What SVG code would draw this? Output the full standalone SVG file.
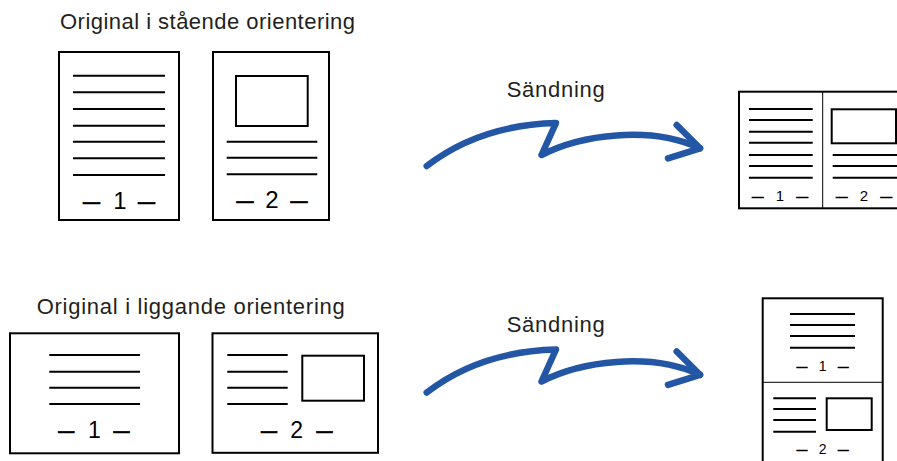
<svg xmlns="http://www.w3.org/2000/svg" width="897" height="461" viewBox="0 0 897 461">
<style>
.pg{fill:#fff;stroke:#000;stroke-width:2}
.ln{stroke:#000;stroke-width:2}
.dv{stroke:#000;stroke-width:1}
.box{fill:none;stroke:#000;stroke-width:2}
.t{font-family:"Liberation Sans",Arial,sans-serif;fill:#231f20;font-size:22px}
.n{font-family:"Liberation Sans",Arial,sans-serif;fill:#000}
.d{stroke:#000;stroke-width:0.6}
.c{text-anchor:middle}
.arr{fill:none;stroke:#2357a6;stroke-width:6.5;stroke-linecap:round;stroke-linejoin:round}
</style>
<rect width="897" height="461" fill="#fff"/>
<g id="title-portrait"><text class="t" x="60" y="29" textLength="295" lengthAdjust="spacing">Original i stående orientering</text></g>
<g id="title-landscape"><text class="t" x="36.7" y="314.3" textLength="308" lengthAdjust="spacing">Original i liggande orientering</text></g>
<g id="portrait-page1">
<rect class="pg" x="59" y="52" width="120" height="168"/>
<path class="ln" d="M73 75.7H165M73 92.3H165M73 109H165M73 125.7H165M73 141.7H165M73 158.3H165M73 175H165"/>
<g class="n" font-size="24">
<text class="d" x="83" y="208.5" textLength="17" lengthAdjust="spacingAndGlyphs">–</text>
<text class="c" x="120" y="208.5">1</text>
<text class="d" x="138" y="208.5" textLength="17" lengthAdjust="spacingAndGlyphs">–</text>
</g>
</g>
<g id="portrait-page2">
<rect class="pg" x="213" y="52" width="116" height="168"/>
<rect class="box" x="236" y="76" width="71.7" height="50"/>
<path class="ln" d="M226.7 141.7H317.3M226.7 157.7H317.3M226.7 174.3H317.3"/>
<g class="n" font-size="24">
<text class="d" x="236.5" y="208.3" textLength="17" lengthAdjust="spacingAndGlyphs">–</text>
<text class="c" x="272" y="208.3">2</text>
<text class="d" x="290.5" y="208.3" textLength="17" lengthAdjust="spacingAndGlyphs">–</text>
</g>
</g>
<g id="landscape-page1">
<rect class="pg" x="10" y="333.3" width="169" height="120"/>
<path class="ln" d="M49.3 355H140M49.3 371.7H140M49.3 387.7H140M49.3 404H140"/>
<g class="n" font-size="23">
<text class="d" x="58.3" y="438.3" textLength="16" lengthAdjust="spacingAndGlyphs">–</text>
<text class="c" x="94.5" y="438.3">1</text>
<text class="d" x="113.5" y="438.3" textLength="16" lengthAdjust="spacingAndGlyphs">–</text>
</g>
</g>
<g id="landscape-page2">
<rect class="pg" x="212.5" y="333.3" width="165.5" height="119.5"/>
<path class="ln" d="M227.3 355H287.7M227.3 371.7H287.7M227.3 387.7H287.7M227.3 404H287.7"/>
<rect class="box" x="302.3" y="355.7" width="61.7" height="45"/>
<g class="n" font-size="23">
<text class="d" x="261" y="438.3" textLength="16" lengthAdjust="spacingAndGlyphs">–</text>
<text class="c" x="296.7" y="438.3">2</text>
<text class="d" x="316.5" y="438.3" textLength="16" lengthAdjust="spacingAndGlyphs">–</text>
</g>
</g>
<g id="label-send-1"><text class="t" x="506.7" y="97" textLength="98" lengthAdjust="spacing">Sändning</text></g>
<g id="label-send-2"><text class="t" x="506.7" y="332.3" textLength="98" lengthAdjust="spacing">Sändning</text></g>
<g id="result-portrait">
<rect class="pg" x="739" y="91.7" width="167.4" height="116.6"/>
<path class="dv" d="M822.7 91.7V208.3"/>
<path class="ln" d="M749 109H812.7M749 120H812.7M749 131.7H812.7M749 142.7H812.7M749 155H812.7M749 166H812.7M749 177.7H812.7"/>
<g class="n" font-size="15">
<text class="d" x="752" y="200.7" textLength="11.5" lengthAdjust="spacingAndGlyphs">–</text>
<text class="c" x="780" y="200.7">1</text>
<text class="d" x="796.5" y="200.7" textLength="11.5" lengthAdjust="spacingAndGlyphs">–</text>
</g>
<rect class="box" x="831.7" y="109.3" width="64.3" height="34"/>
<path class="ln" d="M832.7 155H897M832.7 166H897M832.7 177.7H897"/>
<g class="n" font-size="15">
<text class="d" x="836" y="200.7" textLength="11.5" lengthAdjust="spacingAndGlyphs">–</text>
<text class="c" x="864" y="200.7">2</text>
<text class="d" x="880.5" y="200.7" textLength="11.5" lengthAdjust="spacingAndGlyphs">–</text>
</g>
</g>
<g id="result-landscape">
<rect class="pg" x="762.7" y="298.3" width="120" height="170"/>
<path class="dv" d="M762.7 382.3H882.7"/>
<path class="ln" d="M790 314H855M790 325H855M790 336H855M790 347.7H855"/>
<g class="n" font-size="14">
<text class="d" x="796.7" y="371" textLength="10.5" lengthAdjust="spacingAndGlyphs">–</text>
<text class="c" x="822.7" y="371">1</text>
<text class="d" x="838" y="371" textLength="10.5" lengthAdjust="spacingAndGlyphs">–</text>
</g>
<path class="ln" d="M773.3 398.3H816M773.3 409H816M773.3 420H816M773.3 431.7H816"/>
<rect class="box" x="826.7" y="398.3" width="45" height="31.7"/>
<g class="n" font-size="14">
<text class="d" x="796.7" y="454" textLength="10.5" lengthAdjust="spacingAndGlyphs">–</text>
<text class="c" x="822.7" y="454">2</text>
<text class="d" x="838" y="454" textLength="10.5" lengthAdjust="spacingAndGlyphs">–</text>
</g>
</g>
<g id="connectors">
<g id="send-arrow-1">
<path class="arr" d="M426.7 166Q480 125 556 123L541.5 155C580 135 650 125 700 148.3"/>
<path class="arr" d="M676.7 125L700 148.3L668 158.3"/>
</g>
<g id="send-arrow-2" transform="translate(0,226.5)">
<path class="arr" d="M426.7 166Q480 125 556 123L541.5 155C580 135 650 125 700 148.3"/>
<path class="arr" d="M676.7 125L700 148.3L668 158.3"/>
</g>
</g>
</svg>
